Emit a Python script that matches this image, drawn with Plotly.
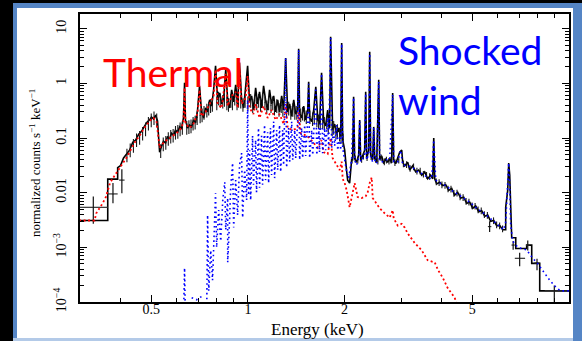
import plotly.graph_objects as go

# ---------------- data ----------------
# total: observed spectrum / total model (black)
total_E = [0.298, 0.366, 0.366, 0.393, 0.393, 0.401, 0.410, 0.419, 0.428, 0.438, 0.447, 0.457, 0.467, 0.477, 0.487, 0.494,
           0.501, 0.508, 0.516, 0.523, 0.531, 0.539, 0.546, 0.554, 0.562, 0.570, 0.578, 0.587, 0.595, 0.604, 0.613, 0.621,
           0.630, 0.635, 0.639, 0.649, 0.658, 0.668, 0.677, 0.687, 0.697, 0.707, 0.717, 0.728, 0.738, 0.749, 0.760, 0.771,
           0.782, 0.793, 0.805, 0.817, 0.829, 0.841, 0.853, 0.865, 0.877, 0.890, 0.903, 0.916, 0.929, 0.942, 0.956, 0.970,
           0.984, 0.998, 1.012, 1.027, 1.041, 1.057, 1.072, 1.087, 1.103, 1.119, 1.135, 1.152, 1.168, 1.185, 1.203, 1.220,
           1.238, 1.255, 1.274, 1.292, 1.311, 1.330, 1.349, 1.369, 1.389, 1.409, 1.429, 1.439, 1.449, 1.470, 1.492, 1.513,
           1.535, 1.546, 1.557, 1.580, 1.603, 1.627, 1.651, 1.672, 1.696, 1.721, 1.746, 1.772, 1.797, 1.810, 1.836, 1.863,
           1.891, 1.918, 1.946, 1.959, 1.973, 2.002, 2.031, 2.045, 2.074, 2.104, 2.119, 2.134, 2.150, 2.181, 2.213, 2.229,
           2.245, 2.277, 2.310, 2.327, 2.344, 2.378, 2.395, 2.412, 2.447, 2.465, 2.483, 2.519, 2.555, 2.573, 2.610, 2.648,
           2.686, 2.725, 2.764, 2.804, 2.824, 2.845, 2.886, 2.928, 2.970, 3.013, 3.035, 3.079, 3.145, 3.191, 3.260, 3.331,
           3.403, 3.478, 3.553, 3.630, 3.709, 3.764, 3.791, 3.818, 3.873, 3.957, 4.043, 4.130, 4.220, 4.312, 4.406, 4.501,
           4.599, 4.699, 4.801, 4.907, 5.013, 5.122, 5.233, 5.347, 5.464, 5.583, 5.704, 5.828, 5.954, 6.085, 6.217, 6.351,
           6.351, 6.443, 6.490, 6.537, 6.584, 6.631, 6.826, 6.826, 7.383, 7.383, 7.654, 7.654, 8.106, 8.106, 10.0]
total_V = [0.0031, 0.0031, 0.0177, 0.0177, 0.0287, 0.0313, 0.0432, 0.051, 0.060, 0.084, 0.092, 0.117, 0.134, 0.167, 0.20, 0.214,
           0.243, 0.223, 0.263, 0.205, 0.055, 0.072, 0.088, 0.081, 0.107, 0.096, 0.123, 0.112, 0.140, 0.128, 0.16, 0.146,
           0.233, 1.03, 0.214, 0.153, 0.174, 0.160, 0.214, 0.19, 0.326, 0.90, 0.30, 0.233, 0.355, 0.30, 0.50, 0.385,
           0.76, 2.1, 0.50, 0.67, 0.42, 0.54, 1.77, 0.50, 0.355, 0.76, 0.46, 0.94, 0.42, 2.4, 0.50, 0.355,
           0.76, 2.1, 0.46, 0.59, 0.326, 0.83, 0.42, 0.70, 0.355, 0.90, 0.50, 0.326, 0.76, 0.42, 0.59, 0.30,
           0.50, 0.30, 0.59, 0.326, 2.9, 0.30, 0.42, 0.25, 0.50, 0.275, 0.326, 4.3, 0.275, 0.233, 0.385, 0.214,
           0.30, 1.07, 0.233, 0.20, 0.326, 0.87, 0.214, 0.18, 1.56, 0.20, 0.167, 0.326, 0.153, 7.1, 0.14, 0.18,
           0.117, 0.153, 0.107, 5.5, 0.092, 0.060, 0.024, 0.017, 0.015, 0.040, 0.040, 0.57, 0.042, 0.036, 0.049, 0.214,
           0.040, 0.047, 0.060, 0.70, 0.042, 0.060, 3.8, 0.049, 0.040, 0.16, 0.042, 0.036, 1.16, 0.040, 0.047, 0.034,
           0.042, 0.036, 0.042, 0.035, 0.67, 0.040, 0.034, 0.042, 0.055, 0.060, 0.036, 0.031, 0.036, 0.026, 0.031, 0.024,
           0.026, 0.021, 0.024, 0.018, 0.021, 0.018, 0.10, 0.018, 0.0145, 0.0155, 0.0135, 0.014, 0.011, 0.012, 0.0090, 0.0102,
           0.0080, 0.0083, 0.0064, 0.0067, 0.0052, 0.0057, 0.0045, 0.0047, 0.0037, 0.0039, 0.0030, 0.0031, 0.0025, 0.0025, 0.0021, 0.0021,
           0.0054, 0.011, 0.035, 0.021, 0.0048, 0.0015, 0.0015, 0.00095, 0.00095, 0.0011, 0.0011, 0.00051, 0.00051, 0.00016, 0.00016]

# soft-band data points (vertical error bars give the noisy band)
soft_E = [0.42, 0.43, 0.44, 0.45, 0.46, 0.47, 0.48, 0.49, 0.50, 0.51, 0.52, 0.535, 0.545, 0.555, 0.565, 0.575,
          0.585, 0.595, 0.605, 0.615, 0.625, 0.645, 0.655, 0.665, 0.675, 0.685, 0.695, 0.71, 0.72, 0.73, 0.745, 0.755,
          0.765, 0.775, 0.80, 0.81, 0.82, 0.835, 0.845, 0.86, 0.87, 0.885, 0.895, 0.91, 0.925, 0.935, 0.95, 0.965,
          0.98, 1.00, 1.02, 1.035, 1.05, 1.065, 1.08, 1.095, 1.11, 1.13, 1.145, 1.16, 1.18, 1.195, 1.21, 1.23,
          1.25, 1.27, 1.285, 1.32, 1.34, 1.36, 1.38, 1.40, 1.42, 1.46, 1.48, 1.50, 1.52, 1.56, 1.59, 1.61,
          1.64, 1.66, 1.68, 1.71, 1.73, 1.76, 1.78, 1.83, 1.85, 1.88, 1.90, 1.93, 1.95, 1.98]
soft_V = [0.050, 0.062, 0.075, 0.095, 0.105, 0.125, 0.15, 0.19, 0.22, 0.24, 0.22, 0.060, 0.080, 0.085, 0.10, 0.11,
          0.115, 0.13, 0.135, 0.15, 0.16, 0.16, 0.165, 0.17, 0.19, 0.20, 0.24, 0.26, 0.27, 0.30, 0.33, 0.36,
          0.40, 0.42, 0.45, 0.55, 0.50, 0.48, 0.52, 0.45, 0.42, 0.50, 0.45, 0.55, 0.45, 0.50, 0.48, 0.42,
          0.50, 0.45, 0.50, 0.40, 0.48, 0.45, 0.50, 0.42, 0.50, 0.45, 0.38, 0.45, 0.40, 0.45, 0.36, 0.40,
          0.34, 0.40, 0.34, 0.33, 0.36, 0.30, 0.34, 0.30, 0.30, 0.27, 0.29, 0.28, 0.25, 0.25, 0.23, 0.25,
          0.22, 0.21, 0.20, 0.21, 0.19, 0.20, 0.17, 0.15, 0.16, 0.13, 0.14, 0.12, 0.11, 0.095]

# hard-band data points
hard_E = [2.11, 2.16, 2.20, 2.26, 2.29, 2.35, 2.42, 2.50, 2.54, 2.60, 2.66, 2.70, 2.75, 2.79, 2.87, 2.95,
          3.05, 3.12, 3.20, 3.28, 3.36, 3.44, 3.52, 3.60, 3.68, 3.86, 3.94, 4.02, 4.11, 4.20, 4.29, 4.38,
          4.48, 4.58, 4.68, 4.78, 4.88, 4.99, 5.10, 5.21, 5.33, 5.45, 5.57, 5.82, 5.95, 6.08, 6.21]
hard_V = [0.040, 0.042, 0.040, 0.041, 0.047, 0.044, 0.046, 0.041, 0.038, 0.044, 0.037, 0.040, 0.038, 0.040, 0.036, 0.040,
          0.034, 0.033, 0.028, 0.030, 0.025, 0.025, 0.022, 0.021, 0.020, 0.016, 0.0155, 0.014, 0.0138, 0.0118, 0.0117, 0.0098,
          0.0099, 0.0085, 0.0082, 0.0070, 0.0068, 0.0058, 0.0057, 0.0049, 0.0047, 0.0040, 0.0039, 0.0031, 0.0026, 0.0025, 0.0022]

# thermal component (red dotted)
thermal_E = [0.298, 0.333, 0.337, 0.345, 0.353, 0.361, 0.366, 0.372, 0.378, 0.387, 0.398, 0.410, 0.422, 0.434, 0.447, 0.460,
             0.473, 0.487, 0.498, 0.508, 0.519, 0.531, 0.542, 0.554, 0.570, 0.587, 0.604, 0.621, 0.630, 0.635, 0.639, 0.658,
             0.677, 0.697, 0.707, 0.717, 0.738, 0.760, 0.782, 0.793, 0.805, 0.829, 0.853, 0.865, 0.890, 0.916, 0.929, 0.942,
             0.956, 0.984, 0.998, 1.012, 1.041, 1.057, 1.087, 1.119, 1.152, 1.185, 1.220, 1.255, 1.292, 1.311, 1.330, 1.379,
             1.429, 1.439, 1.460, 1.513, 1.557, 1.603, 1.651, 1.696, 1.721, 1.772, 1.810, 1.836, 1.891, 1.931, 1.959, 1.973,
             2.002, 2.031, 2.074, 2.119, 2.150, 2.197, 2.261, 2.327, 2.361, 2.395, 2.430, 2.447, 2.573, 2.667, 2.764, 2.824,
             2.845, 2.928, 3.013, 3.079, 3.145, 3.307, 3.478, 3.630, 3.818, 3.914, 4.043, 4.190, 4.406, 4.501]
thermal_V = [0.0031, 0.0031, 0.0042, 0.0051, 0.0064, 0.0083, 0.011, 0.015, 0.0177, 0.022, 0.029, 0.037, 0.047, 0.065, 0.088, 0.11,
             0.146, 0.183, 0.214, 0.233, 0.205, 0.066, 0.078, 0.088, 0.10, 0.112, 0.128, 0.153, 0.20, 0.83, 0.183, 0.153,
             0.183, 0.285, 0.76, 0.25, 0.30, 0.42, 0.59, 1.77, 0.42, 0.355, 1.5, 0.385, 0.59, 0.70, 0.355, 1.77,
             0.42, 0.54, 1.37, 0.355, 0.275, 0.42, 0.233, 0.385, 0.233, 0.326, 0.214, 0.275, 0.18, 0.42, 0.153, 0.14,
             0.153, 0.30, 0.122, 0.112, 0.10, 0.081, 0.066, 0.092, 0.055, 0.051, 0.10, 0.043, 0.032, 0.026, 0.037, 0.018,
             0.015, 0.011, 0.0054, 0.0098, 0.015, 0.0083, 0.008, 0.0086, 0.0102, 0.015, 0.019, 0.008, 0.0052, 0.0042, 0.0035, 0.0048,
             0.0034, 0.0025, 0.0027, 0.0023, 0.0018, 0.0012, 0.00088, 0.00058, 0.00053, 0.00038, 0.00028, 0.00018, 0.00012, 0.00008]

# shocked-wind component (blue dotted); None marks a break in the curve
wind_E = [0.630, 0.635, 0.639, None, 0.668, 0.692, 0.723, None,
          0.744, 0.749, 0.755, 0.766, 0.776, 0.787, 0.793, 0.799, 0.811, 0.823, 0.835, 0.847, 0.853, 0.865, 0.865, 0.877,
          0.883, 0.896, 0.903, 0.916, 0.929, 0.942, 0.956, 0.963, 0.977, 0.991, 0.998, 1.005, 1.012, 1.020, 1.034, 1.041,
          1.057, 1.064, 1.079, 1.087, 1.103, 1.111, 1.127, 1.135, 1.152, 1.160, 1.176, 1.185, 1.203, 1.211, 1.229, 1.238,
          1.255, 1.265, 1.283, 1.292, 1.301, 1.311, 1.320, 1.339, 1.349, 1.369, 1.379, 1.399, 1.409, 1.429, 1.439, 1.449,
          1.470, 1.481, 1.503, 1.513, 1.535, 1.546, 1.557, 1.580, 1.592, 1.615, 1.627, 1.639, 1.663, 1.672, 1.696, 1.709,
          1.734, 1.746, 1.772, 1.784, 1.810, 1.823, 1.850, 1.863, 1.891, 1.904, 1.931, 1.946, 1.959, 1.973, 2.002, 2.031,
          2.060, 2.089, 2.104, 2.134, 2.150, 2.181, 2.213, 2.229, 2.245, 2.277, 2.310, 2.327, 2.344, 2.378, 2.395, 2.412,
          2.447, 2.465, 2.483, 2.519, 2.555, 2.573, 2.629, 2.686, 2.764, 2.824, 2.845, 2.928, 2.992, 3.035, 3.145, 3.260,
          3.379, 3.503, 3.630, 3.737, 3.791, 3.846, 3.957, 4.130, 4.312, 4.501, 4.699, 4.907, 5.122, 5.347, 5.583, 5.828,
          6.085, 6.261, 6.351, 6.397, 6.443, 6.490, 6.537, 6.584, 6.680, 6.924, 7.383, 7.710, 7.939, 8.251, 8.459, 8.709,
          9.155, 9.424, 10.0]
wind_V = [0.00005, 0.00042, 0.00005, None, 0.00012, 0.00011, 0.00013, None,
          0.00005, 0.0039, 0.00016, 0.00088, 0.00025, 0.0021, 0.0098, 0.0010, 0.0048, 0.0013, 0.0073, 0.0156, 0.0021, 0.0080, 0.00053, 0.0031,
          0.011, 0.035, 0.0023, 0.017, 0.0039, 0.032, 0.053, 0.0035, 0.026, 0.0073, 0.50, 0.0090, 0.060, 0.0073, 0.11, 0.014,
          0.092, 0.0102, 0.153, 0.0123, 0.11, 0.014, 0.174, 0.017, 0.128, 0.015, 0.153, 0.021, 0.20, 0.0185, 0.14, 0.026,
          0.174, 0.024, 0.14, 0.032, 0.326, 2.9, 0.0288, 0.153, 0.037, 0.20, 0.040, 0.14, 0.043, 0.214, 4.1, 0.040,
          0.153, 0.043, 0.174, 0.047, 0.214, 0.98, 0.043, 0.14, 0.049, 0.233, 0.83, 0.049, 0.153, 0.055, 1.5, 0.053,
          0.153, 0.060, 0.233, 0.066, 6.8, 0.066, 0.14, 0.072, 0.174, 0.060, 0.11, 0.060, 5.3, 0.066, 0.040, 0.024,
          0.0185, 0.032, 0.040, 0.55, 0.040, 0.032, 0.043, 0.20, 0.037, 0.043, 0.049, 0.65, 0.040, 0.051, 3.5, 0.043,
          0.037, 0.153, 0.040, 0.034, 1.07, 0.037, 0.037, 0.040, 0.040, 0.62, 0.037, 0.037, 0.060, 0.032, 0.031, 0.0288,
          0.024, 0.022, 0.019, 0.018, 0.092, 0.017, 0.015, 0.0135, 0.011, 0.0094, 0.0080, 0.0067, 0.0054, 0.0045, 0.0037, 0.0030,
          0.0024, 0.0021, 0.0029, 0.0059, 0.011, 0.035, 0.014, 0.0025, 0.0013, 0.0010, 0.0009, 0.00063, 0.00053, 0.00038, 0.00031, 0.00025,
          0.00018, 0.00016, 0.00016]

# individual binned data points with error bars (crosses)
pts_E = [0.33, 0.380, 0.405, 5.66, 6.70, 7.02, 7.44, 7.95, 9.0]
pts_V = [0.0054, 0.0095, 0.017, 0.0024, 0.0011, 0.00063, 0.0011, 0.00052, 0.00016]
pts_E_lo = [0.032, 0.014, 0.008, 0.07, 0.08, 0.24, 0.10, 0.15, 0.6]
pts_E_hi = [0.036, 0.013, 0.008, 0.07, 0.08, 0.28, 0.10, 0.15, 1.0]
pts_V_lo = [0.0027, 0.0031, 0.0072, 0.0005, 0.0002, 0.00018, 0.00022, 0.00014, 0.00012]
pts_V_hi = [0.0031, 0.0055, 0.010, 0.0006, 0.0002, 0.00017, 0.00024, 0.00010, 0.00004]

x_tickvals = [0.5, 1, 2, 5]
x_ticktext = ["0.5", "1", "2", "5"]
x_minorvals = [0.4, 0.6, 0.7, 0.8, 0.9, 3, 4, 6, 7, 8, 9]
y_tickvals = [1e-4, 1e-3, 0.01, 0.1, 1, 10]
y_ticktext = ["10<sup>\u22124</sup>", "10<sup>\u22123</sup>", "0.01", "0.1", "1", "10"]
y_minorvals = [m * d for d in [1e-4, 1e-3, 0.01, 0.1, 1, 10] for m in [2, 3, 4, 5, 6, 7, 8, 9]]

# ---------------- figure ----------------
W, H = 582, 341
ML, MR, MT, MB = 80, 13, 14, 39
PW, PH = W - ML - MR, H - MT - MB


def px(x):
    return (x - ML) / PW


def py(y):
    return (H - MB - y) / PH


fig = go.Figure()

fig.add_trace(go.Scatter(x=total_E, y=total_V, mode="lines",
                         line=dict(color="black", width=1.6), showlegend=False))
fig.add_trace(go.Scatter(x=soft_E, y=soft_V, mode="markers", marker=dict(size=1, color="black"),
                         error_y=dict(type="percent", value=28, color="#1a1a1a", thickness=1.1, width=0),
                         showlegend=False))
fig.add_trace(go.Scatter(x=hard_E, y=hard_V, mode="markers", marker=dict(size=1, color="black"),
                         error_y=dict(type="percent", value=14, color="#1a1a1a", thickness=1.1, width=0),
                         showlegend=False))
fig.add_trace(go.Scatter(x=pts_E, y=pts_V, mode="markers", marker=dict(size=1, color="black"),
                         error_x=dict(type="data", symmetric=False, array=pts_E_hi, arrayminus=pts_E_lo,
                                      color="#333333", thickness=1.2, width=0),
                         error_y=dict(type="data", symmetric=False, array=pts_V_hi, arrayminus=pts_V_lo,
                                      color="#111111", thickness=1.2, width=0),
                         showlegend=False))
fig.add_trace(go.Scatter(x=thermal_E, y=thermal_V, mode="lines",
                         line=dict(color="#ff0000", width=1.8, dash="2px,2.5px"), showlegend=False))
fig.add_trace(go.Scatter(x=wind_E, y=wind_V, mode="lines", connectgaps=False,
                         line=dict(color="#0000ff", width=1.6, dash="1.6px,3.2px"), showlegend=False))

blue = "#5585c5"
shapes = [
    dict(type="rect", xref="paper", yref="paper", x0=px(13), x1=px(582), y0=py(341), y1=py(3),
         fillcolor="white", line=dict(width=0), layer="below"),
    dict(type="rect", xref="paper", yref="paper", x0=px(13), x1=px(17), y0=py(341), y1=py(3),
         fillcolor=blue, line=dict(width=0), layer="below"),
    dict(type="rect", xref="paper", yref="paper", x0=px(13), x1=px(582), y0=py(8), y1=py(3),
         fillcolor=blue, line=dict(width=0), layer="below"),
    dict(type="rect", xref="paper", yref="paper", x0=px(573), x1=px(582), y0=py(341), y1=py(3),
         fillcolor=blue, line=dict(width=0), layer="below"),
    dict(type="rect", xref="paper", yref="paper", x0=px(13), x1=px(573), y0=py(341), y1=py(338),
         fillcolor="#b3cae8", line=dict(width=0), layer="below"),
]

serif = "Liberation Serif"
annotations = [
    dict(text="Thermal", xref="paper", yref="paper", x=px(101), y=py(72), xanchor="left", yanchor="middle",
         showarrow=False, font=dict(family="Lato", size=39, color="#ff0000")),
    dict(text="Shocked", xref="paper", yref="paper", x=px(396), y=py(50), xanchor="left", yanchor="middle",
         showarrow=False, font=dict(family="Lato", size=39, color="#0000ff")),
    dict(text="wind", xref="paper", yref="paper", x=px(396), y=py(100), xanchor="left", yanchor="middle",
         showarrow=False, font=dict(family="Lato", size=39, color="#0000ff")),
    dict(text="Energy (keV)", xref="paper", yref="paper", x=px(317), y=py(329), xanchor="center", yanchor="middle",
         showarrow=False, font=dict(family=serif, size=17, color="black")),
    dict(text="normalized counts s<sup>\u22121</sup> keV<sup>\u22121</sup>", xref="paper", yref="paper",
         x=px(35), y=py(163), xanchor="center", yanchor="middle", textangle=-90,
         showarrow=False, font=dict(family=serif, size=13, color="black")),
]

axis_common = dict(showline=True, linecolor="black", linewidth=1.6, mirror="allticks",
                   ticks="inside", tickcolor="black", tickwidth=1.3, ticklen=7,
                   showgrid=False, zeroline=False)

fig.update_layout(
    width=W, height=H,
    margin=dict(l=ML, r=MR, t=MT, b=MB, pad=0),
    paper_bgcolor="black", plot_bgcolor="rgba(0,0,0,0)",
    shapes=shapes, annotations=annotations,
    xaxis=dict(type="log", range=[-0.5229, 1.0], tickmode="array", tickvals=x_tickvals, ticktext=x_ticktext,
               tickfont=dict(family=serif, size=14, color="black"), ticklabelstandoff=-7,
               minor=dict(tickmode="array", tickvals=x_minorvals, ticks="inside", ticklen=4,
                          tickcolor="black", tickwidth=1.2),
               **axis_common),
    yaxis=dict(type="log", range=[-4.0, 1.27], tickmode="array", tickvals=y_tickvals, ticktext=y_ticktext,
               tickangle=-90, tickfont=dict(family=serif, size=14, color="black"), ticklabelstandoff=7,
               minor=dict(tickmode="array", tickvals=y_minorvals, ticks="inside", ticklen=4,
                          tickcolor="black", tickwidth=1.2),
               **axis_common),
)

fig.write_html("out.html")
